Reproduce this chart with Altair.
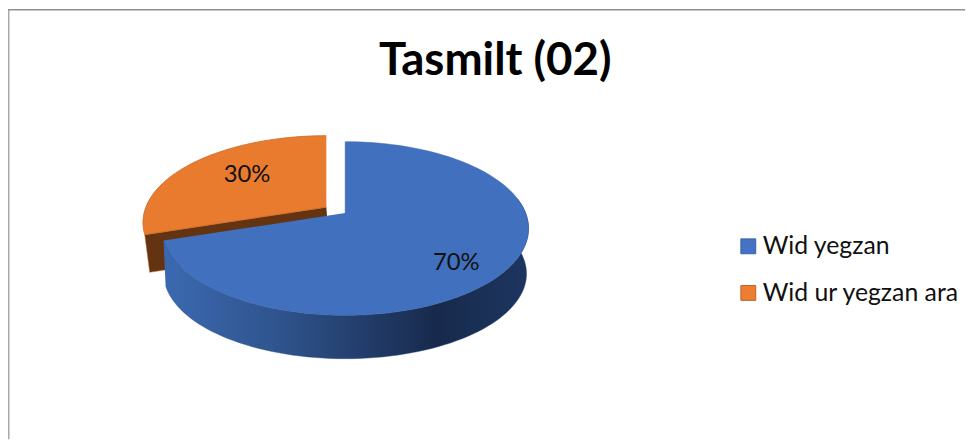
import math
import altair as alt
import pandas as pd

categories = ["Wid yegzan", "Wid ur yegzan ara"]
shares = [70, 30]
labels = ["70%", "30%"]
title_text = "Tasmilt (02)"
top_colors = ["#4170be", "#e97b2f"]
legend_fill = ["#4472c4", "#ed7d31"]
legend_edge = ["#3a629f", "#b9642a"]
FONT = "Lato"

# perspective model of the 3D pie (image pixels)
CX, CY = 348.0, 213.0
A, B, P = 182.0, 84.8, 0.177
DEPTH, A2, B2 = 46.0, 180.0, 83.0
EXPLODE = (-19.0, -6.0)


def project(theta_deg, r=1.0, a=A, b=B, cx=CX, cy=CY):
    t = math.radians(theta_deg)
    u, v = r * math.sin(t), r * math.cos(t)
    w = 1 + P * v
    return cx + a * u / w, cy - b * v / w


def arc(start, end, **kw):
    n = max(2, int(abs(end - start) / 2) + 1)
    return [project(start + (end - start) * i / (n - 1), **kw) for i in range(n)]


def frame(points):
    return pd.DataFrame(
        {"x": [p[0] for p in points], "y": [p[1] for p in points], "i": range(len(points))}
    )


split = 360.0 * shares[0] / sum(shares)
ox, oy = CX + EXPLODE[0], CY + EXPLODE[1]

blue_top = [(CX, CY)] + arc(0, split)
orange_top = [(ox, oy)] + arc(split, 360, cx=ox, cy=oy)
blue_side = arc(split, 80) + arc(80, split, a=A2, b=B2, cy=CY + DEPTH)
corner = project(split, cx=ox, cy=oy)
corner_low = (corner[0] + 5, corner[1] + 38)
brown_wall = [(ox, oy), corner, corner_low, (ox + 3, oy + 38)]

xs = alt.Scale(domain=[8, 973], range=[0, 965])
ys = alt.Scale(domain=[441, 8], range=[433, 0])
X = alt.X("x:Q", scale=xs, axis=None)
Y = alt.Y("y:Q", scale=ys, axis=None)


def poly(points, **mark):
    return alt.Chart(frame(points)).mark_line(**mark).encode(x=X, y=Y, order=alt.Order("i:Q"))


side_gradient = alt.LinearGradient(
    gradient="linear",
    x1=0, x2=1, y1=0, y2=0,
    stops=[
        alt.GradientStop(offset=0, color="#3b69b1"),
        alt.GradientStop(offset=0.3, color="#30558f"),
        alt.GradientStop(offset=0.75, color="#172a4c"),
        alt.GradientStop(offset=1, color="#1d3560"),
    ],
)

wall = poly(brown_wall, fill="#633312", stroke="#c0692a", strokeWidth=0.5)
orange = poly(orange_top, fill=top_colors[1], stroke="#c96a28", strokeWidth=0.8)
side = poly(blue_side, fill=side_gradient, stroke="#2c4f8a", strokeWidth=0.4)
blue = poly(blue_top, fill=top_colors[0], stroke="#3a66ad", strokeWidth=0.5)

label_df = pd.DataFrame({"x": [460, 249], "y": [263, 175], "t": labels})
text = alt.Chart(label_df).mark_text(font=FONT, fontSize=24, color="#111111").encode(x=X, y=Y, text="t:N")

frame_color = "#a8a8a8"
left_rule = alt.Chart(pd.DataFrame({"x": [8.5]})).mark_rule(color=frame_color, strokeWidth=2).encode(x=X, y=alt.value(0), y2=alt.value(433))
top_rule = alt.Chart(pd.DataFrame({"y": [8.0]})).mark_rule(color="#8f8f8f", strokeWidth=1.5).encode(y=Y, x=alt.value(0), x2=alt.value(965))

legend_opts = dict(
    orient="none", legendX=734, legendY=226, title=None,
    labelFont=FONT, labelFontSize=25, labelColor="#111111",
    symbolType="square", symbolSize=225, symbolOpacity=1, symbolStrokeWidth=1,
    rowPadding=21, labelOffset=2, labelLimit=300,
)
legend_df = pd.DataFrame({"cat": categories, "x": [600, 600], "y": [20, 20]})
legend_layer = alt.Chart(legend_df).mark_square(size=0).encode(
    x=X, y=Y,
    fill=alt.Fill("cat:N", scale=alt.Scale(domain=categories, range=legend_fill), legend=alt.Legend(**legend_opts)),
    stroke=alt.Stroke("cat:N", scale=alt.Scale(domain=categories, range=legend_edge), legend=alt.Legend(**legend_opts)),
)

chart = alt.layer(left_rule, top_rule, wall, orange, side, blue, text, legend_layer).properties(
    width=965, height=433, padding=0, autosize=alt.AutoSizeParams(type="none"),
    title=alt.TitleParams(
        title_text, font=FONT, fontSize=46, fontWeight="bold", color="#000000",
        anchor="start", frame="group", dx=374, dy=113, offset=0, baseline="alphabetic",
    ),
).configure_view(stroke=None)

chart.save("out.html", embed_options={"renderer": "svg", "actions": False})
